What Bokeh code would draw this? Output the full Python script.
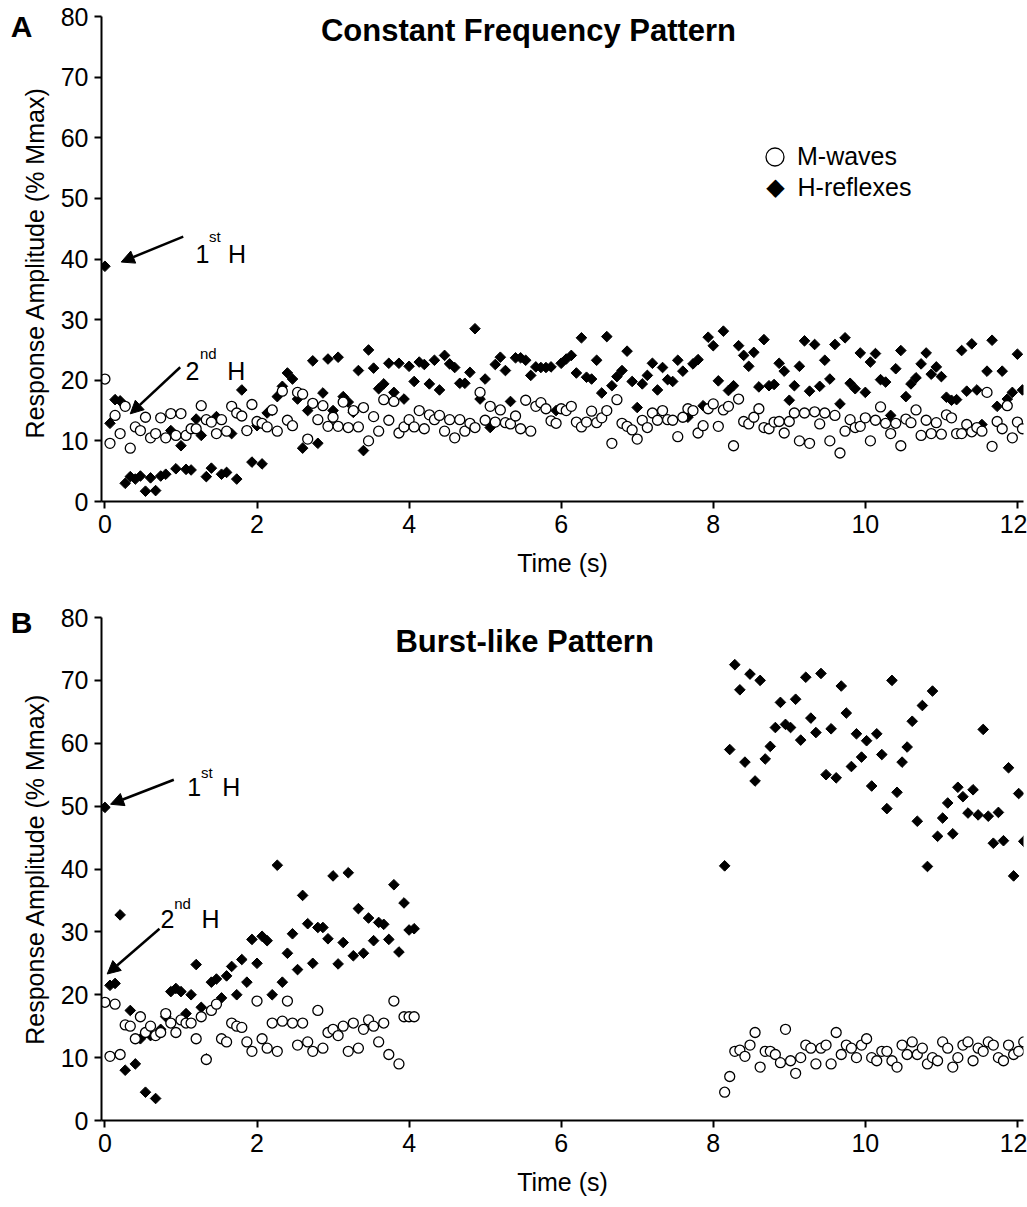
import numpy as np
from bokeh.plotting import figure
from bokeh.layouts import column
from bokeh.models import (Label, Arrow, NormalHead, Legend, LegendItem, Range1d,
                          FixedTicker)
from bokeh.embed import file_html
from bokeh.resources import INLINE

FONT = "Liberation Sans"

# ---------------- data ----------------
STIM_RATE_HZ = 15.0          # stimulation frequency (pulses per second)
BURST2_START_S = 8.15        # start of second burst in panel B

x_ticks = [0, 2, 4, 6, 8, 10, 12]
y_ticks = [0, 10, 20, 30, 40, 50, 60, 70, 80]

# Panel A: constant frequency pattern
a_m_waves = [
    20.2, 9.6, 14.2, 11.2, 15.7, 8.8, 12.3, 11.7, 13.9, 10.5,
    11.2, 13.8, 10.5, 14.5, 10.9, 14.5, 10.9, 12.0, 12.0, 15.8,
    13.5, 13.1, 11.2, 13.5, 11.6, 15.7, 14.6, 14.1, 11.7, 16.0,
    13.2, 12.9, 12.3, 15.1, 11.6, 18.2, 13.4, 12.5, 18.0, 17.7,
    10.3, 16.2, 13.5, 15.8, 12.4, 13.9, 12.4, 16.4, 12.2, 15.0,
    12.3, 15.5, 10.0, 14.0, 11.6, 16.8, 13.4, 16.5, 11.3, 12.3,
    13.5, 12.3, 15.0, 12.0, 14.3, 13.5, 14.2, 11.6, 13.5, 10.5,
    13.5, 11.6, 12.9, 12.2, 18.0, 13.4, 15.7, 13.1, 15.1, 13.0,
    12.8, 14.1, 12.0, 16.7, 11.6, 15.7, 16.3, 15.3, 13.3, 12.9,
    15.3, 15.0, 15.7, 13.1, 12.3, 13.1, 14.9, 13.0, 13.8, 15.0,
    9.6, 16.8, 12.9, 12.4, 11.8, 10.3, 13.4, 12.2, 14.6, 13.4,
    15.0, 13.5, 13.4, 10.7, 13.9, 15.3, 15.0, 11.3, 12.5, 15.3,
    16.1, 12.4, 15.1, 15.7, 9.2, 16.9, 13.2, 12.8, 13.9, 15.3,
    12.2, 12.0, 13.1, 13.2, 11.3, 13.2, 14.6, 10.0, 14.6, 9.6,
    14.8, 12.8, 14.6, 10.0, 14.2, 8.0, 11.6, 13.5, 12.2, 12.4,
    13.8, 10.0, 13.4, 15.6, 12.9, 11.2, 12.9, 9.2, 13.6, 13.0,
    15.1, 10.9, 13.4, 11.2, 13.0, 11.1, 14.3, 13.8, 11.2, 11.2,
    12.7, 11.5, 12.2, 11.6, 18.0, 9.1, 13.2, 12.0, 15.8, 10.5,
    13.1, 12.0,
]
a_h_reflexes = [
    38.8, 12.9, 16.8, 16.6, 3.0, 4.1, 3.7, 4.2, 1.7, 3.9,
    1.8, 4.2, 4.5, 11.7, 5.4, 9.2, 5.3, 5.2, 13.6, 10.9,
    4.1, 5.5, 14.0, 4.5, 4.8, 11.2, 3.7, 18.4, 11.7, 6.5,
    12.5, 6.2, 14.6, 15.0, 17.3, 19.0, 21.2, 20.2, 16.9, 8.8,
    15.0, 23.2, 9.6, 17.9, 23.5, 15.0, 23.8, 17.3, 16.4, 14.7,
    21.6, 8.4, 25.0, 22.0, 18.6, 19.4, 22.8, 18.0, 22.8, 16.9,
    22.3, 19.8, 23.0, 22.6, 19.4, 23.3, 18.4, 24.1, 22.7, 22.1,
    19.5, 19.5, 21.3, 28.5, 16.9, 20.2, 12.2, 22.6, 23.8, 21.6,
    16.5, 23.7, 23.7, 23.3, 20.8, 22.2, 22.1, 22.1, 22.2, 15.0,
    22.8, 23.5, 24.1, 21.2, 27.0, 20.5, 20.2, 23.3, 17.9, 27.2,
    19.1, 20.6, 21.6, 24.8, 19.8, 15.5, 19.4, 20.8, 22.8, 18.4,
    22.1, 20.1, 19.8, 23.3, 21.5, 13.9, 22.7, 23.4, 15.8, 27.1,
    25.7, 19.9, 28.1, 18.3, 19.1, 25.7, 24.1, 22.3, 24.6, 18.9,
    26.7, 19.1, 19.3, 22.8, 21.5, 16.7, 19.1, 22.3, 26.5, 18.2,
    25.9, 19.0, 23.3, 20.2, 25.9, 16.1, 27.0, 19.5, 18.6, 24.5,
    18.0, 23.0, 24.4, 20.1, 19.7, 14.2, 21.9, 24.9, 17.3, 19.4,
    20.4, 22.7, 24.5, 21.0, 22.2, 20.6, 17.2, 16.7, 16.8, 24.9,
    18.2, 26.0, 18.4, 12.7, 21.5, 26.6, 15.7, 21.5, 16.9, 18.0,
    24.3, 18.4,
]

# Panel B: burst-like pattern (first burst from 0 s, second from BURST2_START_S)
b1_m_waves = [
    18.8, 10.2, 18.5, 10.5, 15.2, 15.0, 13.0, 16.5, 14.0, 15.0,
    13.5, 14.0, 17.0, 15.5, 14.0, 16.0, 15.5, 15.5, 13.0, 16.5,
    9.7, 17.5, 18.5, 13.0, 12.5, 15.5, 15.0, 14.8, 12.5, 11.0,
    19.0, 13.0, 11.5, 15.5, 11.0, 15.8, 19.0, 15.5, 12.0, 15.5,
    12.5, 11.0, 17.5, 11.5, 14.0, 14.5, 13.5, 15.0, 11.0, 15.5,
    11.5, 14.5, 16.0, 15.0, 12.5, 15.5, 10.5, 19.0, 9.0, 16.5,
    16.5, 16.5,
]
b1_h_reflexes = [
    49.8, 21.5, 21.8, 32.7, 8.0, 17.5, 9.0, 13.0, 4.5, 13.5,
    3.5, 14.5, 16.5, 20.5, 21.0, 20.5, 17.0, 20.0, 24.8, 18.0,
    9.8, 22.0, 22.5, 19.5, 23.0, 24.5, 20.0, 25.6, 22.0, 28.8,
    25.0, 29.3, 28.6, 20.0, 40.6, 22.0, 26.6, 29.7, 24.0, 35.8,
    31.3, 25.0, 30.7, 30.7, 28.9, 38.9, 24.9, 28.3, 39.4, 26.2,
    33.7, 26.6, 32.2, 28.6, 31.5, 31.2, 28.8, 37.5, 26.8, 34.6,
    30.3, 30.5,
]
b2_m_waves = [
    4.5, 7.0, 11.0, 11.2, 10.2, 12.0, 14.0, 8.5, 11.0, 11.0,
    10.5, 9.2, 14.5, 9.5, 7.5, 10.0, 12.0, 11.5, 9.0, 11.5,
    12.0, 9.0, 14.0, 10.5, 12.0, 11.5, 10.0, 12.0, 13.0, 10.0,
    9.5, 11.0, 11.0, 9.5, 8.5, 12.0, 10.5, 12.5, 10.5, 11.5,
    9.0, 10.0, 9.5, 12.5, 11.5, 8.5, 10.0, 12.0, 12.5, 9.5,
    11.5, 11.0, 12.5, 12.0, 10.0, 9.5, 12.0, 10.5, 11.0, 12.5,
]
b2_h_reflexes = [
    40.5, 59.0, 72.5, 68.5, 57.0, 71.0, 54.0, 70.0, 57.5, 59.5,
    62.5, 66.5, 63.0, 62.5, 67.0, 60.5, 70.5, 64.0, 61.7, 71.1,
    55.0, 62.3, 54.5, 69.1, 64.8, 56.3, 61.5, 57.8, 60.4, 53.2,
    61.5, 58.2, 49.6, 70.0, 52.2, 57.0, 59.4, 63.5, 47.6, 66.0,
    40.4, 68.3, 45.2, 48.1, 50.5, 45.6, 53.0, 51.5, 48.9, 52.6,
    48.6, 62.2, 48.4, 44.1, 49.0, 44.5, 56.1, 38.9, 52.0, 44.4,
]

legend_labels = ["M-waves", "H-reflexes"]
y_title = "Response Amplitude (% Mmax)"
x_title = "Time (s)"

# stimulus times (constant stimulation rate within each train)
a_time = [i / STIM_RATE_HZ for i in range(len(a_m_waves))]
b_time = ([i / STIM_RATE_HZ for i in range(len(b1_m_waves))] +
          [BURST2_START_S + i / STIM_RATE_HZ for i in range(len(b2_m_waves))])
b_m_waves = b1_m_waves + b2_m_waves
b_h_reflexes = b1_h_reflexes + b2_h_reflexes

TXT = "25px"


# ---------------- helpers ----------------
def make_fig(height, top, bottom):
    p = figure(width=1027, height=height,
               x_range=Range1d(-0.045, 12.08), y_range=Range1d(0, 80),
               output_backend="svg", toolbar_location=None,
               min_border_left=101, min_border_right=4,
               min_border_top=top, min_border_bottom=bottom)
    p.outline_line_color = None
    p.grid.visible = False
    p.background_fill_color = "white"
    p.border_fill_color = "white"
    for ax in (p.xaxis, p.yaxis):
        ax.axis_line_width = 2
        ax.axis_line_color = "black"
        ax.major_tick_line_width = 2
        ax.major_tick_line_color = "black"
        ax.major_tick_out = 7
        ax.major_tick_in = 0
        ax.minor_tick_out = 0
        ax.minor_tick_in = 0
        ax.major_label_text_font = FONT
        ax.major_label_text_font_size = TXT
        ax.major_label_text_color = "black"
        ax.axis_label_text_font = FONT
        ax.axis_label_text_font_size = TXT
        ax.axis_label_text_font_style = "normal"
        ax.axis_label_text_color = "black"
    p.xaxis.ticker = FixedTicker(ticks=x_ticks)
    p.yaxis.ticker = FixedTicker(ticks=y_ticks)
    p.xaxis.major_label_standoff = 6
    p.yaxis.major_label_standoff = 6
    p.xaxis.axis_label = x_title
    p.xaxis.axis_label_standoff = 13
    return p


def draw_series(p, t, m, h):
    rh = p.scatter(t, h, marker="square", angle=np.pi / 4, size=7.5,
                   fill_color="black", line_color="black", line_width=1)
    rm = p.scatter(t, m, marker="circle", size=10, fill_color="white",
                   line_color="black", line_width=1.3)
    return rm, rh


def txt(p, x, y, s, size=TXT, style="normal", align="left",
        baseline="alphabetic", font=FONT, place="center", angle=0.0):
    p.add_layout(Label(x=x, y=y, text=s, text_font=font, angle=angle,
                       text_font_size=size, text_font_style=style,
                       text_align=align, text_baseline=baseline,
                       text_color="black"), place)


def arrow(p, x0, y0, x1, y1):
    p.add_layout(Arrow(x_start=x0, y_start=y0, x_end=x1, y_end=y1,
                       line_width=2.5, line_color="black",
                       end=NormalHead(size=13, fill_color="black",
                                      line_color="black", line_width=1)))


def annot(p, x, y, num, sup, sup_dx, h_dx, sup_dy):
    txt(p, x, y, num)
    txt(p, x + sup_dx, y + sup_dy, sup, size="15px")
    txt(p, x + h_dx, y, "H")


def side_texts(p, letter, letter_y, title_y):
    # texts left of the y axis live in the left side panel (not clipped)
    txt(p, -1.097, letter_y, letter, size="30px", style="bold",
        align="center", baseline="middle", place="left")
    txt(p, -0.913, title_y, y_title, align="center", baseline="middle",
        place="left", angle=np.pi / 2)


# ---------------- panel A ----------------
pA = make_fig(600, 16, 99)
rmA, rhA = draw_series(pA, a_time, a_m_waves, a_h_reflexes)
txt(pA, 5.57, 77.7, "Constant Frequency Pattern", size="31px", style="bold",
    align="center", baseline="middle")
side_texts(pA, "A", 78.35, 39.4)
annot(pA, 1.19, 40.9, "1", "st", 0.18, 0.43, 2.8)
arrow(pA, 1.03, 43.7, 0.214, 39.5)
annot(pA, 1.06, 21.6, "2", "nd", 0.19, 0.55, 2.8)
arrow(pA, 0.99, 22.15, 0.333, 14.46)

legM = Legend(items=[LegendItem(label=legend_labels[0], renderers=[rmA])],
              location=(651, 322), orientation="vertical",
              glyph_width=45, glyph_height=45, label_standoff=0,
              padding=0, margin=0, spacing=0,
              border_line_color=None, background_fill_alpha=0,
              label_text_font=FONT, label_text_font_size=TXT,
              label_text_color="black")
pA.add_layout(legM, "center")
txt(pA, 8.819, 51.8, "\u25C6", size="24px", align="center",
    baseline="middle", font="DejaVu Sans")
txt(pA, 9.108, 51.8, legend_labels[1], align="left", baseline="middle")

# ---------------- panel B ----------------
pB = make_fig(607, 17, 87)
draw_series(pB, b_time, b_m_waves, b_h_reflexes)
txt(pB, 5.52, 76.2, "Burst-like Pattern", size="31px", style="bold",
    align="center", baseline="middle")
side_texts(pB, "B", 79.2, 40.0)
annot(pB, 1.082, 53.0, "1", "st", 0.18, 0.46, 2.4)
arrow(pB, 0.906, 54.2, 0.074, 50.3)
annot(pB, 0.731, 32.1, "2", "nd", 0.18, 0.54, 2.4)
arrow(pB, 0.718, 30.5, 0.03, 23.3)

layout = column(pA, pB, spacing=0)
open("out.html", "w").write(file_html(layout, INLINE))
